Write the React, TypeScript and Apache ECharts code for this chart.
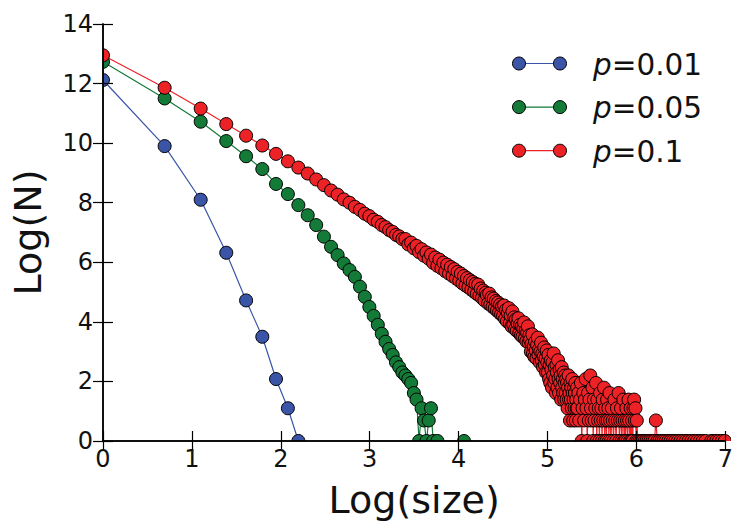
import React, { useEffect, useRef } from "react";
import * as echarts from "echarts";

// sizes (cluster size) and log of counts
const blueSizes = [1, 2, 3, 4, 5, 6, 7, 8, 9];
const blueLogN = [12.12, 9.9, 8.1, 6.32, 4.72, 3.5, 2.08, 1.1, 0];

const greenSizes = [1, 2, 3, 4, 5, 6, 7, 8, 9, 10, 11, 12, 13, 14, 15, 16, 17, 18, 19, 20,
  21, 22, 23, 24, 25, 26, 27, 28, 29, 30, 31, 32, 33, 34, 35, 36, 37, 38, 39, 40, 41, 43, 58];
const greenLogN = [12.73, 11.5, 10.72, 10.07, 9.56, 9.13, 8.63, 8.29, 7.92, 7.58,
  7.25, 6.86, 6.52, 6.24, 5.96, 5.74, 5.51, 5.18, 4.84, 4.5,
  4.2, 3.9, 3.6, 3.33, 3.09, 2.89, 2.64, 2.48, 2.3, 2.2,
  2.08, 1.95, 1.61, 1.39, 0, 1.1, 0.69, 0, 0.69, 1.1, 0, 0, 0];

// red: sizes 1..207 in order (size = position + 1)
const redLogN = [
  12.95, 11.86, 11.16, 10.64, 10.25, 9.92, 9.64, 9.39, 9.18, 8.98, 8.78, 8.59, 8.41,
  8.27, 8.11, 8.0, 7.86, 7.76, 7.63, 7.55, 7.43, 7.36, 7.25, 7.18, 7.08, 7.02, 6.92, 6.87, 6.78,
  6.78, 6.6, 6.66, 6.47, 6.55, 6.34, 6.44, 6.22, 6.33, 6.12,
  6.26, 5.98, 6.16, 5.88, 6.09, 5.8, 5.99, 5.7, 5.92, 5.62, 5.84, 5.54, 5.77, 5.46, 5.68, 5.38,
  5.62, 5.29, 5.54, 5.22, 5.47, 5.16, 5.4, 5.08, 5.34, 5.01, 5.28, 4.94,
  5.25, 4.88, 5.12, 4.8, 5.05, 4.72, 4.98, 4.9, 4.62, 4.95, 4.58, 4.82, 4.5, 4.78, 4.46, 4.7,
  4.38, 4.65, 4.32, 4.58, 4.25, 4.52, 4.2,
  4.55, 4.1, 4.4, 4.02, 4.3, 4.46, 3.95, 4.22, 3.85, 4.35,
  3.9, 4.15, 3.75, 4.08, 3.7, 3.95, 4.12, 3.62, 3.9, 3.55,
  3.85, 3.5, 3.78, 3.98, 3.45, 3.7, 3.35, 3.64, 3.85, 3.3, 3.55,
  3.4, 3.0, 3.26, 3.58, 2.94, 3.18, 2.83, 3.33, 3.04, 2.77, 3.22, 3.47, 2.89, 3.09,
  2.64, 3.0, 3.3, 2.71, 2.94, 2.48, 2.83, 3.14, 2.56, 2.77, 2.3, 3.04, 2.64,
  2.3, 2.89, 2.08, 2.56, 1.95, 2.71, 2.4, 1.79, 2.64, 2.2, 2.94, 1.95, 2.48, 2.08, 1.61, 2.56,
  2.3, 1.79, 2.71, 2.08, 1.61, 2.4, 1.95, 2.2, 1.39, 2.48, 1.79, 2.08, 1.61, 2.3, 1.39, 1.95, 2.2,
  1.61, 2.08, 1.39, 1.95, 1.1, 1.79, 2.2, 1.39, 1.61, 0.69, 1.95, 1.39, 1.79, 1.1, 2.08, 1.61,
  0.69, 1.39, 1.79, 1.1, 1.61, 1.95, 0.69, 1.39, 1.1, 1.79,
];
const redTailSizes = [
  208, 210, 212, 214, 216, 218, 220, 222, 224, 226, 228, 230, 232, 234, 236, 238, 240, 242, 244, 246,
  248, 250, 252, 254, 256, 258, 260, 262, 264, 266, 268, 270, 272, 274, 276, 278, 280, 282, 284, 286,
  288, 290, 292, 294, 296, 298, 300,
  303, 306, 309, 312, 315, 318, 321, 324, 327, 330, 333, 336, 339, 342, 345, 348, 351, 354, 357, 360,
  363, 366, 369, 372, 375, 378, 381, 384, 387, 390, 393, 396, 399, 402, 405,
  410, 418, 426, 434, 443, 452, 462, 472, 483, 494, 502, 510, 522, 535, 548, 562, 577, 592, 608, 625,
  643, 662, 682, 703, 725, 748, 772, 797, 823, 850, 878,
  935, 960, 990, 1020, 1055, 1090, 1120,
];
const redTailLogN = [
  1.1, 1.61, 0.69, 1.39, 1.95, 0, 1.1, 1.61, 0.69, 1.39, 2.08, 1.1, 0, 1.61, 0.69, 1.39, 2.2, 1.1, 0.69, 1.79,
  0, 1.39, 0.69, 1.1, 1.95, 0, 1.39, 0.69, 1.1, 0, 1.61, 0.69, 1.1, 0, 1.39, 0.69, 1.79, 0, 1.1, 0.69,
  0, 1.39, 0.69, 1.1, 0, 1.61, 0.69,
  0, 1.1, 0.69, 0, 1.39, 0.69, 0, 1.1, 0.69, 1.61, 0, 0.69, 1.1, 0, 0.69, 1.39, 0, 0.69, 0, 1.1,
  0.69, 0, 1.39, 0.69, 0, 1.1, 0, 0.69, 0, 1.1, 1.39, 0.69, 1.1, 0, 0.69,
  0, 0, 0, 0, 0, 0, 0, 0, 0, 0, 0.69, 0, 0, 0, 0, 0, 0, 0, 0, 0,
  0, 0, 0, 0, 0, 0, 0, 0, 0, 0, 0,
  0, 0, 0, 0, 0, 0, 0,
];

const xTicks = { min: 0, max: 7, interval: 1 };
const yTicks = { min: 0, max: 14, interval: 2 };

const legendLabels = ["0.01", "0.05", "0.1"];
const colors = ["#3a55a8", "#137a38", "#ec2227"];

const FONT = "DejaVu Sans";

export default function App() {
  const ref = useRef<HTMLDivElement>(null);
  useEffect(() => {
    if (!ref.current) return;
    const chart = echarts.init(ref.current, undefined, { renderer: "svg" });

    const toPts = (sizes: number[], vals: number[]) => sizes.map((s, i) => [Math.log(s), vals[i]]);
    const redSizes = redLogN.map((_, i) => i + 1);
    const blueData = toPts(blueSizes, blueLogN);
    const greenData = toPts(greenSizes, greenLogN);
    const redData = toPts(redSizes.concat(redTailSizes), redLogN.concat(redTailLogN));

    const mkSeries = (name: string, data: number[][], color: string) => ({
      name,
      type: "line",
      data,
      symbol: "circle",
      symbolSize: 13,
      showSymbol: true,
      clip: true,
      itemStyle: { color, borderColor: "#000", borderWidth: 1 },
      lineStyle: { color, width: 1.2 },
      emphasis: { disabled: true },
    });

    const axisCommon = {
      type: "value",
      splitLine: { show: false },
      axisLine: { show: true, lineStyle: { color: "#000", width: 1.5 } },
      axisTick: { show: true, inside: true, length: 10, lineStyle: { color: "#000", width: 1.2 } },
      z: 10,
    };

    const L = 103, R = 731, T = 24, B = 441;
    const legendItems: any[] = [];
    legendLabels.forEach((lab, i) => {
      const y = 63.5 + i * 43.6;
      legendItems.push(
        { type: "line", shape: { x1: 519, y1: y, x2: 560, y2: y }, style: { stroke: colors[i], lineWidth: 1.2 }, z: 20 },
        { type: "circle", shape: { cx: 519, cy: y, r: 6.5 }, style: { fill: colors[i], stroke: "#000", lineWidth: 1 }, z: 21 },
        { type: "circle", shape: { cx: 560, cy: y, r: 6.5 }, style: { fill: colors[i], stroke: "#000", lineWidth: 1 }, z: 21 },
        {
          type: "text", x: 593, y: y + 1, z: 21,
          style: {
            text: "{i|p}=" + lab,
            fontFamily: FONT, fontSize: 29.5, fill: "#111", verticalAlign: "middle", align: "left",
            rich: { i: { fontStyle: "italic", fontFamily: FONT, fontSize: 29.5, fill: "#111" } },
          },
        }
      );
    });

    chart.setOption({
      animation: false,
      backgroundColor: "#fff",
      grid: { left: L, right: 736 - R, top: T, bottom: 525 - B, containLabel: false },
      xAxis: [
        {
          ...axisCommon, position: "bottom", ...xTicks,
          axisLabel: { fontSize: 24, color: "#111", fontFamily: FONT, margin: 6 },
          name: "Log(size)", nameLocation: "middle", nameGap: 40,
          nameTextStyle: { fontSize: 38, color: "#111", fontFamily: FONT, verticalAlign: "top" },
        },
        { ...axisCommon, position: "top", ...xTicks, axisLabel: { show: false } },
      ],
      yAxis: [
        {
          ...axisCommon, position: "left", ...yTicks,
          axisLabel: { fontSize: 24, color: "#111", fontFamily: FONT, margin: 10 },
          name: "Log(N)", nameLocation: "middle", nameGap: 56,
          nameTextStyle: { fontSize: 38, color: "#111", fontFamily: FONT },
        },
        { ...axisCommon, position: "right", ...yTicks, axisLabel: { show: false } },
      ],
      graphic: [
        { type: "rect", shape: { x: 0, y: 0, width: L, height: 525 }, style: { fill: "#fff" }, z: 5, silent: true },
        { type: "rect", shape: { x: 0, y: B, width: 736, height: 525 - B }, style: { fill: "#fff" }, z: 5, silent: true },
        { type: "rect", shape: { x: R, y: 0, width: 736 - R, height: 525 }, style: { fill: "#fff" }, z: 5, silent: true },
        { type: "rect", shape: { x: 0, y: 0, width: 736, height: T }, style: { fill: "#fff" }, z: 5, silent: true },
        ...legendItems,
      ],
      series: [
        mkSeries("p=0.01", blueData, colors[0]),
        mkSeries("p=0.05", greenData, colors[1]),
        mkSeries("p=0.1", redData, colors[2]),
      ],
    });
    return () => chart.dispose();
  }, []);
  return (
    <div style={{ position: "absolute", left: 0, top: 0 }}>
      <div ref={ref} style={{ width: 736, height: 525 }} />
    </div>
  );
}
